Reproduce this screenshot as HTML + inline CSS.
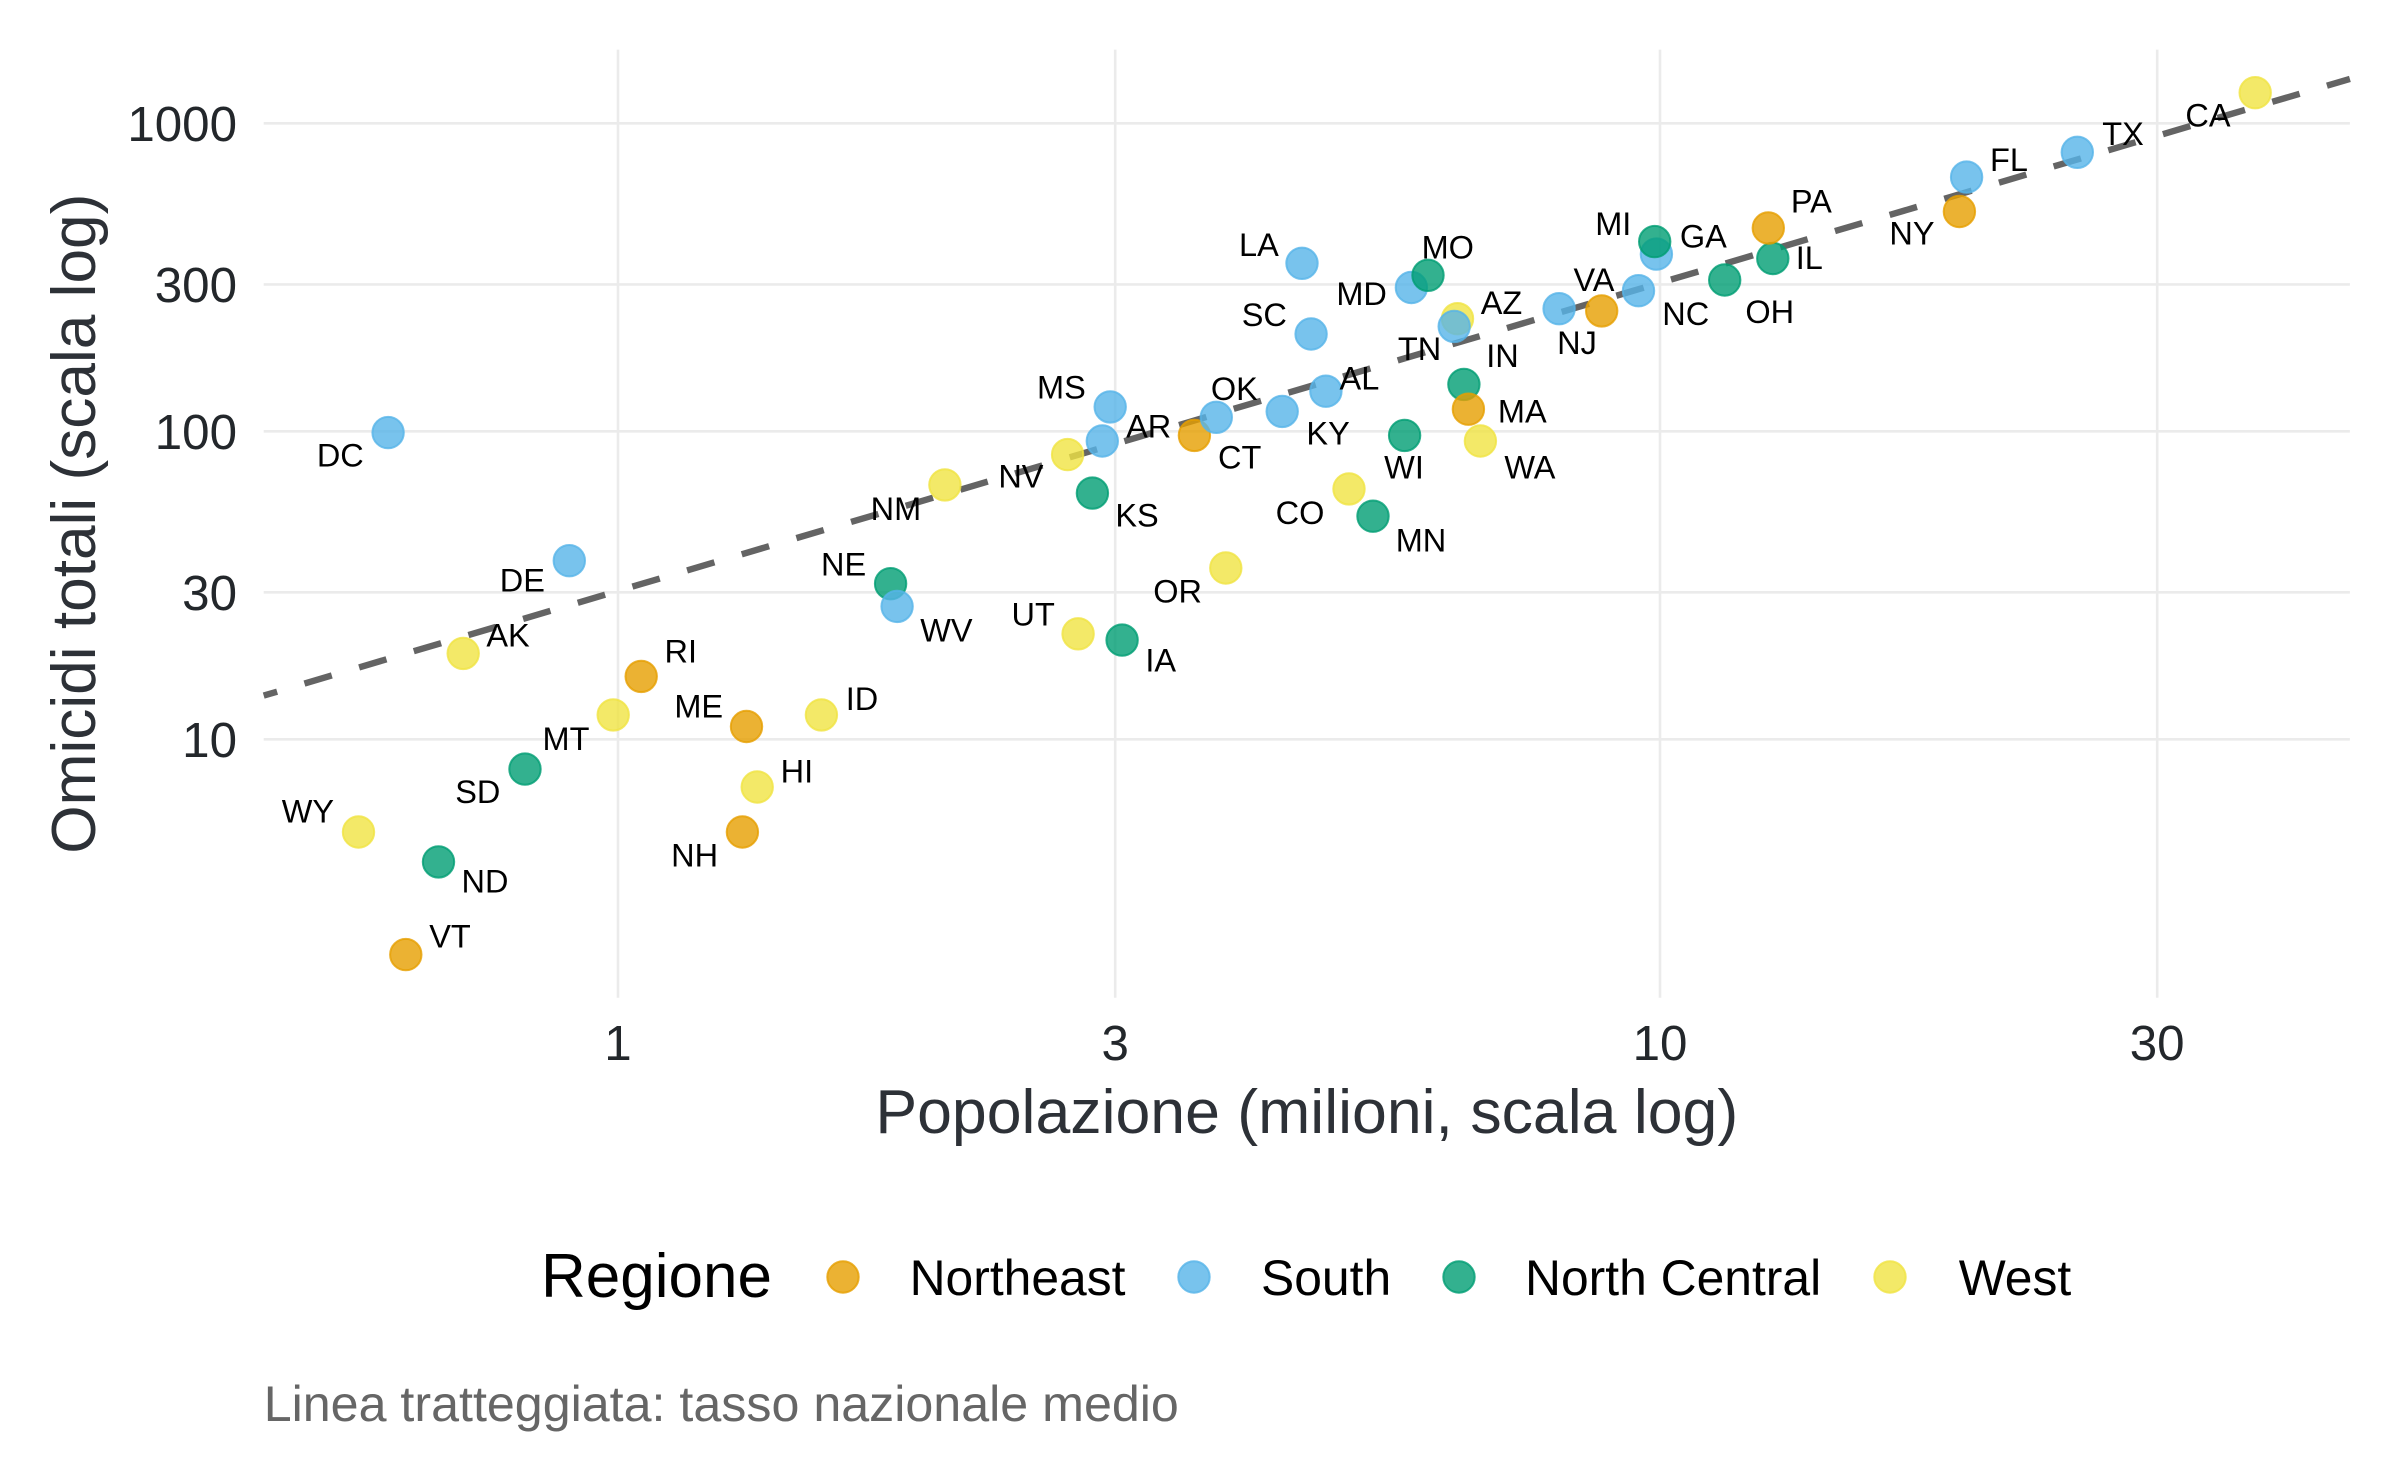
<!DOCTYPE html>
<html>
<head>
<meta charset="utf-8">
<style>
html,body{margin:0;padding:0;background:#ffffff;}
svg{display:block;}
text{font-family:"Liberation Sans",Arial,Helvetica,sans-serif;}
.lab{font-size:32.5px;fill:#000;text-anchor:middle;}
.ne{fill:#E69F00;stroke:#E69F00;fill-opacity:0.8;stroke-opacity:0.8;stroke-width:2;}
.so{fill:#56B4E9;stroke:#56B4E9;fill-opacity:0.8;stroke-opacity:0.8;stroke-width:2;}
.nc{fill:#009E73;stroke:#009E73;fill-opacity:0.8;stroke-opacity:0.8;stroke-width:2;}
.we{fill:#F0E442;stroke:#F0E442;fill-opacity:0.8;stroke-opacity:0.8;stroke-width:2;}
</style>
</head>
<body>
<svg width="2400" height="1483" viewBox="0 0 2400 1483" xmlns="http://www.w3.org/2000/svg">
<rect x="0" y="0" width="2400" height="1483" fill="#ffffff"/>

<!-- gridlines -->
<g stroke="#EBEBEB" stroke-width="2.6" fill="none">
  <line x1="263.7" y1="123.3" x2="2349.9" y2="123.3"/>
  <line x1="263.7" y1="284.4" x2="2349.9" y2="284.4"/>
  <line x1="263.7" y1="431.3" x2="2349.9" y2="431.3"/>
  <line x1="263.7" y1="592.3" x2="2349.9" y2="592.3"/>
  <line x1="263.7" y1="739.3" x2="2349.9" y2="739.3"/>
  <line x1="618" y1="49.6" x2="618" y2="997.7"/>
  <line x1="1115.2" y1="49.6" x2="1115.2" y2="997.7"/>
  <line x1="1660" y1="49.6" x2="1660" y2="997.7"/>
  <line x1="2157.2" y1="49.6" x2="2157.2" y2="997.7"/>
</g>

<!-- national rate dashed line -->
<line x1="263.7" y1="695.6" x2="2349.9" y2="78.9" stroke="#646464" stroke-width="6.4" stroke-dasharray="28.5 28.5" stroke-dashoffset="14.5" fill="none"/>

<!-- points (alphabetical by state name) -->
<circle class="so" cx="1325.9" cy="391.2" r="15.7"/>
<circle class="we" cx="463.2" cy="653.4" r="15.7"/>
<circle class="we" cx="1457.5" cy="318.7" r="15.7"/>
<circle class="so" cx="1102.3" cy="441.0" r="15.7"/>
<circle class="we" cx="2255.2" cy="92.7" r="15.7"/>
<circle class="we" cx="1349.0" cy="488.9" r="15.7"/>
<circle class="ne" cx="1194.4" cy="435.4" r="15.7"/>
<circle class="so" cx="569.3" cy="560.7" r="15.7"/>
<circle class="so" cx="388.1" cy="432.6" r="15.7"/>
<circle class="so" cx="1966.6" cy="177.1" r="15.7"/>
<circle class="so" cx="1656.4" cy="254.1" r="15.7"/>
<circle class="we" cx="757.2" cy="787.0" r="15.7"/>
<circle class="we" cx="821.4" cy="714.9" r="15.7"/>
<circle class="nc" cx="1772.8" cy="258.5" r="15.7"/>
<circle class="nc" cx="1463.9" cy="384.4" r="15.7"/>
<circle class="nc" cx="1122.1" cy="640.1" r="15.7"/>
<circle class="nc" cx="1092.4" cy="493.1" r="15.7"/>
<circle class="so" cx="1282.2" cy="411.4" r="15.7"/>
<circle class="so" cx="1302.0" cy="263.3" r="15.7"/>
<circle class="ne" cx="746.5" cy="726.5" r="15.7"/>
<circle class="so" cx="1411.4" cy="287.5" r="15.7"/>
<circle class="ne" cx="1468.4" cy="409.2" r="15.7"/>
<circle class="nc" cx="1654.7" cy="241.6" r="15.7"/>
<circle class="nc" cx="1373.0" cy="516.2" r="15.7"/>
<circle class="so" cx="1110.2" cy="406.9" r="15.7"/>
<circle class="nc" cx="1428.0" cy="275.3" r="15.7"/>
<circle class="we" cx="613.2" cy="714.9" r="15.7"/>
<circle class="nc" cx="890.6" cy="583.7" r="15.7"/>
<circle class="we" cx="1067.6" cy="454.6" r="15.7"/>
<circle class="ne" cx="742.4" cy="832.0" r="15.7"/>
<circle class="ne" cx="1601.7" cy="310.9" r="15.7"/>
<circle class="we" cx="944.9" cy="484.9" r="15.7"/>
<circle class="ne" cx="1959.4" cy="211.5" r="15.7"/>
<circle class="so" cx="1638.5" cy="290.7" r="15.7"/>
<circle class="nc" cx="438.5" cy="861.9" r="15.7"/>
<circle class="nc" cx="1724.7" cy="280.0" r="15.7"/>
<circle class="so" cx="1216.3" cy="417.3" r="15.7"/>
<circle class="we" cx="1225.8" cy="568.0" r="15.7"/>
<circle class="ne" cx="1768.3" cy="228.0" r="15.7"/>
<circle class="ne" cx="641.2" cy="676.4" r="15.7"/>
<circle class="so" cx="1311.1" cy="334.0" r="15.7"/>
<circle class="nc" cx="525.0" cy="769.1" r="15.7"/>
<circle class="so" cx="1454.2" cy="326.4" r="15.7"/>
<circle class="so" cx="2077.3" cy="152.3" r="15.7"/>
<circle class="we" cx="1078.1" cy="633.8" r="15.7"/>
<circle class="ne" cx="405.8" cy="954.6" r="15.7"/>
<circle class="so" cx="1559.1" cy="308.7" r="15.7"/>
<circle class="we" cx="1480.4" cy="441.0" r="15.7"/>
<circle class="so" cx="897.1" cy="606.4" r="15.7"/>
<circle class="nc" cx="1404.6" cy="435.4" r="15.7"/>
<circle class="we" cx="358.5" cy="832.0" r="15.7"/>

<!-- labels -->
<g>
<text class="lab" x="1359.4" y="389.3">AL</text>
<text class="lab" x="508" y="646.6">AK</text>
<text class="lab" x="1501.5" y="314.1">AZ</text>
<text class="lab" x="1148.7" y="437.6">AR</text>
<text class="lab" x="2208" y="126.6">CA</text>
<text class="lab" x="1300" y="523.9">CO</text>
<text class="lab" x="1239.7" y="468.3">CT</text>
<text class="lab" x="522.3" y="591.6">DE</text>
<text class="lab" x="340.3" y="466.6">DC</text>
<text class="lab" x="2009" y="170.9">FL</text>
<text class="lab" x="1703.3" y="247.6">GA</text>
<text class="lab" x="796.9" y="782.3">HI</text>
<text class="lab" x="862" y="709.9">ID</text>
<text class="lab" x="1809.3" y="269.1">IL</text>
<text class="lab" x="1502.5" y="366.9">IN</text>
<text class="lab" x="1160.7" y="671.6">IA</text>
<text class="lab" x="1137" y="526.6">KS</text>
<text class="lab" x="1328.1" y="444.3">KY</text>
<text class="lab" x="1258.9" y="255.9">LA</text>
<text class="lab" x="698.7" y="717.6">ME</text>
<text class="lab" x="1361.6" y="304.9">MD</text>
<text class="lab" x="1522.3" y="422.3">MA</text>
<text class="lab" x="1613.3" y="234.9">MI</text>
<text class="lab" x="1421" y="551.6">MN</text>
<text class="lab" x="1061.4" y="398.6">MS</text>
<text class="lab" x="1447.8" y="258.3">MO</text>
<text class="lab" x="566" y="749.9">MT</text>
<text class="lab" x="843.6" y="575.3">NE</text>
<text class="lab" x="1020.9" y="487.6">NV</text>
<text class="lab" x="694.6" y="866.6">NH</text>
<text class="lab" x="1577" y="354.1">NJ</text>
<text class="lab" x="895.9" y="519.9">NM</text>
<text class="lab" x="1912" y="244.3">NY</text>
<text class="lab" x="1685.7" y="324.9">NC</text>
<text class="lab" x="485" y="892.6">ND</text>
<text class="lab" x="1769.7" y="322.8">OH</text>
<text class="lab" x="1234.4" y="399.9">OK</text>
<text class="lab" x="1177.6" y="602.6">OR</text>
<text class="lab" x="1811.3" y="212.4">PA</text>
<text class="lab" x="680.8" y="662.6">RI</text>
<text class="lab" x="1264.3" y="325.9">SC</text>
<text class="lab" x="477.8" y="802.9">SD</text>
<text class="lab" x="1419.6" y="359.9">TN</text>
<text class="lab" x="2123" y="144.9">TX</text>
<text class="lab" x="1033.2" y="625.6">UT</text>
<text class="lab" x="450" y="947.6">VT</text>
<text class="lab" x="1594" y="290.9">VA</text>
<text class="lab" x="1529.9" y="478.3">WA</text>
<text class="lab" x="946.4" y="641.6">WV</text>
<text class="lab" x="1404" y="478.3">WI</text>
<text class="lab" x="307.9" y="822.6">WY</text>
</g>

<!-- y tick labels -->
<g font-size="49.3" fill="#23272b" text-anchor="end">
  <text x="237" y="141">1000</text>
  <text x="237" y="302.1">300</text>
  <text x="237" y="449">100</text>
  <text x="237" y="610">30</text>
  <text x="237" y="757">10</text>
</g>
<!-- x tick labels -->
<g font-size="49.3" fill="#23272b" text-anchor="middle">
  <text x="618" y="1060">1</text>
  <text x="1115.2" y="1060">3</text>
  <text x="1660" y="1060">10</text>
  <text x="2157.2" y="1060">30</text>
</g>

<!-- axis titles -->
<text x="1306.8" y="1133" font-size="62.6" fill="#2d3137" text-anchor="middle">Popolazione (milioni, scala log)</text>
<text transform="translate(95,523.7) rotate(-90)" x="0" y="0" font-size="62.2" fill="#2d3137" text-anchor="middle">Omicidi totali (scala log)</text>

<!-- legend -->
<text x="541" y="1297" font-size="62" fill="#000">Regione</text>
<circle class="ne" cx="843" cy="1277" r="15.7"/>
<text x="909.6" y="1295" font-size="49.8" fill="#000">Northeast</text>
<circle class="so" cx="1194" cy="1277" r="15.7"/>
<text x="1261" y="1295" font-size="49.8" fill="#000">South</text>
<circle class="nc" cx="1459" cy="1277" r="15.7"/>
<text x="1525" y="1295" font-size="49.8" fill="#000">North Central</text>
<circle class="we" cx="1890" cy="1277" r="15.7"/>
<text x="1958.7" y="1295" font-size="49.8" fill="#000">West</text>

<!-- caption -->
<text x="263.7" y="1421" font-size="50.2" fill="#666666">Linea tratteggiata: tasso nazionale medio</text>
</svg>
</body>
</html>
